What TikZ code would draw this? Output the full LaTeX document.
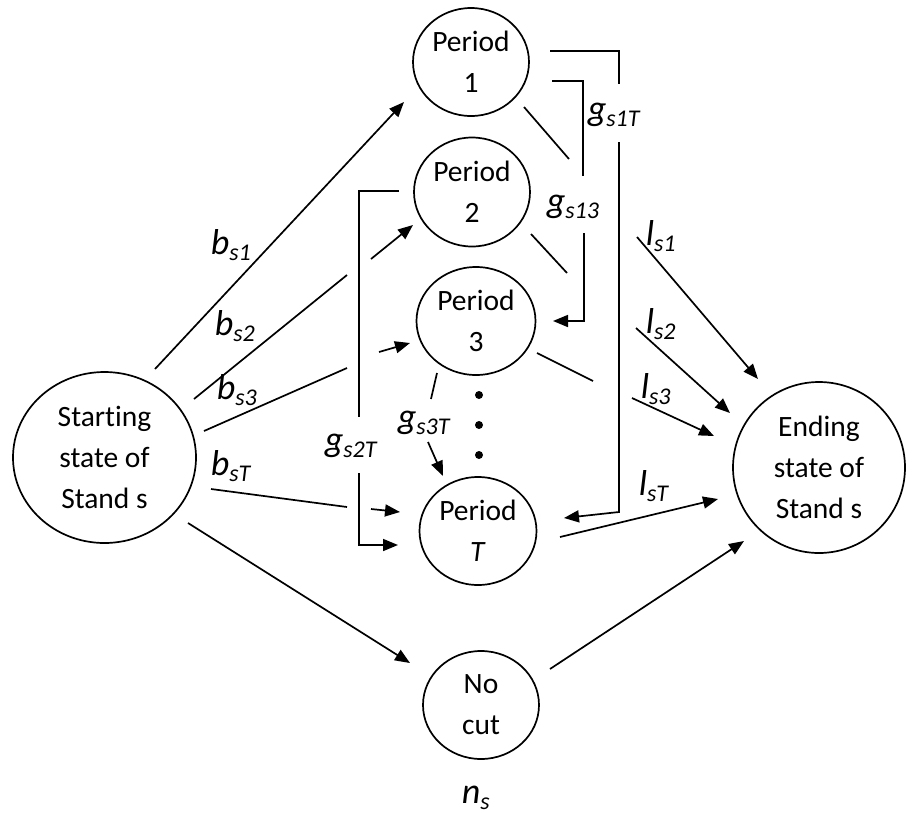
\documentclass[tikz,border=0pt]{standalone}
\usepackage{fontspec}
\setmainfont{Carlito}[Ligatures=NoCommon]
\usetikzlibrary{shapes.geometric,arrows.meta}
\newcommand\lbl[2]{#1\raisebox{-6pt}{\fontsize{24}{24}\selectfont #2}}
\begin{document}
\begin{tikzpicture}[x=1pt,y=-1pt, line width=1.7pt,
 state/.style={ellipse,draw,inner sep=0pt,align=center,font=\fontsize{29.5}{41}\selectfont},
 arr/.style={-{Triangle[length=15pt,width=12pt]}},
 lab/.style={anchor=base west,inner sep=0pt,font=\fontsize{36}{36}\selectfont\itshape},
 dot/.style={circle,fill,inner sep=0pt,minimum size=8pt}]
\useasboundingbox (0,0) rectangle (906,815);
% nodes
\node[state,minimum width=116pt,minimum height=108pt] (p1) at (471,62) {Period\\1};
\node[state,minimum width=116pt,minimum height=109pt] (p2) at (472,192) {Period\\2};
\node[state,minimum width=119pt,minimum height=108pt] (p3) at (476,321) {Period\\3};
\node[state,minimum width=117pt,minimum height=108pt] (pT) at (478,531) {Period\\\textit{T}};
\node[state,minimum width=116pt,minimum height=108pt] (nc) at (481,705) {No\\cut};
\node[state,minimum width=183pt,minimum height=171pt] (st) at (104.5,457.5) {Starting\\state of\\Stand s};
\node[state,minimum width=172pt,minimum height=171pt] (en) at (819,467.5) {Ending\\state of\\Stand s};
\node[dot] (d1) at (479,395) {};
\node[dot] (d2) at (479,425) {};
\node[dot] (d3) at (479,455) {};
% connectors b
\draw[arr] (155,369) -- (404,102);
\draw (194,399) -- (347,275);
\draw[arr] (371,259) -- (413,225);
\draw (204,431) -- (347,368);
\draw[arr] (379,352) -- (410,343);
\draw (211,489) -- (347,507);
\draw[arr] (371,509) -- (400,512);
% g_s2T bracket
\draw (399,191) -- (359,191) -- (359,417);
\draw[arr] (359,473) -- (359,545) -- (398,545);
% no cut
\draw[arr] (188,523) -- (410,663);
\draw[arr] (550,669) -- (744,541);
% l_sT
\draw[arr] (560,537) -- (718,499);
% g_s1T bracket
\draw (550,51) -- (619,51) -- (619,84);
\draw[arr] (619,142) -- (619,512) -- (564,518);
% g_s13 bracket
\draw (552,81) -- (583,81) -- (583,176);
\draw[arr] (584,233) -- (584,321) -- (553,321);
% fragments
\draw (524,107) -- (569,159);
\draw (531,234) -- (567,273);
\draw (537,353) -- (593,381);
\draw (437,373) -- (431,399);
\draw[arr] (428,442) -- (443,476);
% l arrows
\draw[arr] (637,237) -- (758,379);
\draw[arr] (636,328) -- (730,413);
\draw[arr] (632,398) -- (714,436);
% labels
\node[lab] (lb1) at (210,254) {\lbl{b}{s1}};
\node[lab] (lb2) at (214,335) {\lbl{b}{s2}};
\node[lab] (lb3) at (216,399) {\lbl{b}{s3}};
\node[lab] (lbT) at (210,475) {\lbl{b}{sT}};
\node[lab] (lg2T) at (324,451) {\lbl{g}{s2T}};
\node[lab] (lg3T) at (397,428) {\lbl{g}{s3T}};
\node[lab] (lg1T) at (587,120) {\lbl{g}{s1T}};
\node[lab] (lg13) at (546,212) {\lbl{g}{s13}};
\node[lab] (ll1) at (645,245) {\lbl{l}{s1}};
\node[lab] (ll2) at (645,333) {\lbl{l}{s2}};
\node[lab] (ll3) at (640,398) {\lbl{l}{s3}};
\node[lab] (llT) at (638,495) {\lbl{l}{sT}};
\node[lab] (lns) at (461,803) {\lbl{n}{s}};
\end{tikzpicture}
\end{document}
